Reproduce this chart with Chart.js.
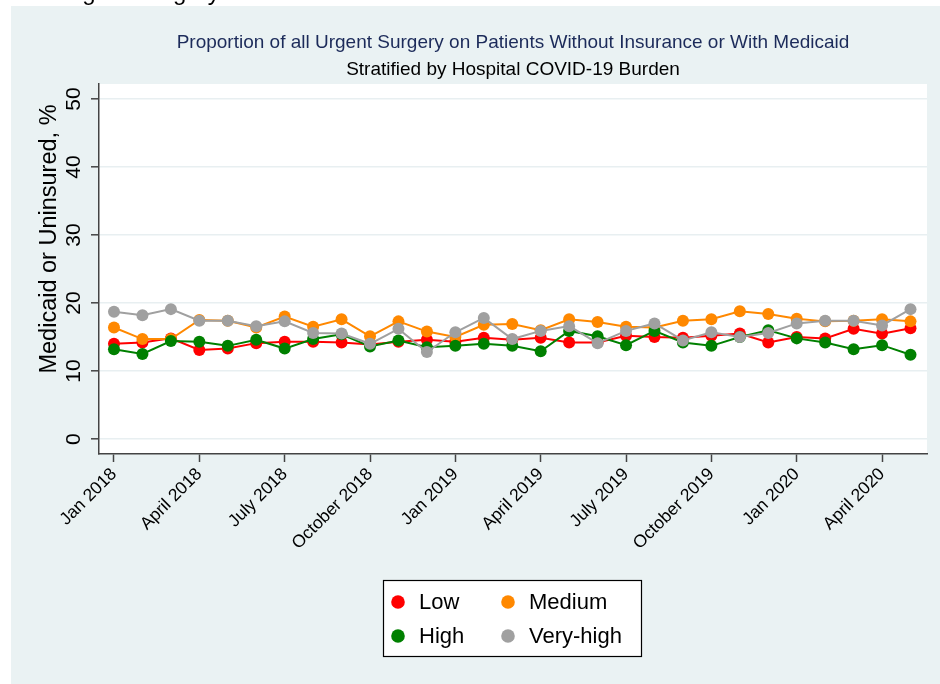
<!DOCTYPE html>
<html><head><meta charset="utf-8">
<script src="https://cdn.jsdelivr.net/npm/chart.js@4.4.1/dist/chart.umd.min.js"></script>
<style>html,body{margin:0;padding:0;background:#fff;}#wrap{width:940px;height:684px;position:relative;}</style>
</head><body><div id="wrap"><canvas id="c" width="940" height="684"></canvas></div>
<script>
// ---- data ----
const monthIndex = [0,1,2,3,4,5,6,7,8,9,10,11,12,13,14,15,16,17,18,19,20,21,22,23,24,25,26,27,28]; // Jan 2018 .. May 2020
const tickIndex = [0,3,6,9,12,15,18,21,24,27];
const tickLabels = ['Jan 2018','April 2018','July 2018','October 2018','Jan 2019','April 2019','July 2019','October 2019','Jan 2020','April 2020'];
const yTicks = [0,10,20,30,40,50];
const seriesNames = ['Low','Medium','High','Very-high'];
const low      = [14.0,14.2,14.8,13.1,13.3,14.1,14.3,14.3,14.2,13.9,14.3,14.6,14.3,14.9,14.6,14.9,14.2,14.2,15.2,15.0,14.9,15.2,15.5,14.2,15.0,14.8,16.2,15.5,16.3];
const medium   = [16.4,14.7,14.7,17.5,17.4,16.4,18.0,16.5,17.6,15.1,17.3,15.8,15.0,16.8,16.9,16.0,17.6,17.2,16.5,16.4,17.4,17.6,18.8,18.4,17.7,17.3,17.4,17.6,17.3];
const high     = [13.2,12.5,14.4,14.3,13.7,14.6,13.3,14.7,15.4,13.6,14.5,13.5,13.7,14.0,13.7,12.9,15.9,15.1,13.8,15.9,14.2,13.7,15.0,16.0,14.8,14.2,13.2,13.8,12.4];
const veryHigh = [18.7,18.2,19.1,17.4,17.4,16.6,17.3,15.6,15.5,14.0,16.2,12.8,15.7,17.8,14.7,15.9,16.6,14.1,15.9,17.0,14.5,15.7,15.0,15.6,17.0,17.4,17.4,16.7,19.1];
const titleText = 'Proportion of all Urgent Surgery on Patients Without Insurance or With Medicaid';
const subtitleText = 'Stratified by Hospital COVID-19 Burden';
const yTitleText = 'Medicaid or Uninsured, %';
const topClipText = 'Urgent Surgery';

// ---- styles ----
const colors = ['#ff0000','#ff8800','#008000','#a0a0a0'];
const FONT = '"Liberation Sans", Arial, Helvetica, sans-serif';
const AXIS = '#444444';

function pts(arr){ return arr.map((v,i)=>({x:monthIndex[i], y:v})); }
const seriesData = [low, medium, high, veryHigh];

const datasets = seriesData.map((arr,k)=>({
  label: seriesNames[k],
  data: pts(arr),
  borderColor: colors[k],
  backgroundColor: colors[k],
  pointBackgroundColor: colors[k],
  pointBorderColor: colors[k],
  pointBorderWidth: 0,
  pointRadius: 6,
  borderWidth: 2,
  tension: 0,
  order: 3-k
}));

const deco = {
  id: 'deco',
  beforeDraw(chart){
    const {ctx, chartArea:a} = chart;
    ctx.save();
    ctx.fillStyle = '#ffffff'; ctx.fillRect(0,0,940,684);
    ctx.fillStyle = '#000'; ctx.font = '24px ' + FONT; ctx.textAlign='left'; ctx.textBaseline='alphabetic';
    ctx.fillText(topClipText, 57, 0);
    ctx.fillStyle = '#eaf2f3'; ctx.fillRect(11,6,929,678);
    ctx.fillStyle = '#ffffff'; ctx.fillRect(a.left, a.top, a.right-a.left, a.bottom-a.top);
    ctx.restore();
  },
  afterDraw(chart){
    const {ctx, chartArea:a, scales} = chart;
    const cx = (a.left + a.right)/2;
    ctx.save();
    // titles
    ctx.textAlign = 'center'; ctx.textBaseline = 'middle';
    ctx.fillStyle = '#1c2b5a'; ctx.font = '19px ' + FONT;
    ctx.fillText(titleText, cx, 43);
    ctx.fillStyle = '#000'; ctx.font = '19px ' + FONT;
    ctx.fillText(subtitleText, cx, 70);
    // y tick labels (rotated)
    ctx.font = '21px ' + FONT; ctx.fillStyle = '#000';
    scales.y.ticks.forEach(t=>{
      const py = scales.y.getPixelForValue(t.value);
      ctx.save(); ctx.translate(80, py); ctx.rotate(-Math.PI/2);
      ctx.textAlign='center'; ctx.textBaseline='alphabetic';
      ctx.fillText(String(t.value), 0, 0); ctx.restore();
    });
    // y title
    ctx.save(); ctx.translate(56, 239); ctx.rotate(-Math.PI/2);
    ctx.font = '23.5px ' + FONT; ctx.textAlign='center'; ctx.textBaseline='alphabetic'; ctx.fillStyle='#000';
    ctx.fillText(yTitleText, 0, 0); ctx.restore();
    // legend
    const bx=383, by=580, bw=258, bh=76;
    ctx.fillStyle='#fff'; ctx.fillRect(bx,by,bw,bh);
    ctx.strokeStyle='#000'; ctx.lineWidth=1.2; ctx.strokeRect(bx+0.5,by+0.5,bw,bh);
    const pos = [[398,602],[508,602],[398,636],[508,636]];
    ctx.font = '22px ' + FONT; ctx.textAlign='left'; ctx.textBaseline='middle';
    chart.data.datasets.forEach((ds,k)=>{
      const [x,y] = pos[k];
      ctx.fillStyle = ds.borderColor; ctx.beginPath(); ctx.arc(x,y,6.8,0,Math.PI*2); ctx.fill();
      ctx.fillStyle = '#000'; ctx.fillText(ds.label, x+21, y+1);
    });
    ctx.restore();
  }
};

new Chart(document.getElementById('c'), {
  type: 'line',
  data: { datasets },
  options: {
    responsive: false,
    animation: false,
    events: [],
    layout: { padding: { left: 0, top: 84, right: 13, bottom: 0 } },
    plugins: { legend: { display: false }, tooltip: { enabled: false }, title: { display: false } },
    scales: {
      x: {
        type: 'linear', min: -0.527, max: 28.58,
        afterBuildTicks: s => { s.ticks = tickIndex.map(v=>({value:v})); },
        afterFit: s => { s.height = 230; },
        ticks: {
          autoSkip: false, minRotation: 45, maxRotation: 45, padding: 2,
          color: '#000', font: { family: FONT, size: 17.5 },
          callback: v => { const i = tickIndex.indexOf(v); return i >= 0 ? tickLabels[i] : ''; }
        },
        grid: { drawOnChartArea: false, drawTicks: true, tickLength: 8, tickColor: AXIS, tickWidth: 1.5 },
        border: { display: true, color: AXIS, width: 1.5 }
      },
      y: {
        type: 'linear', min: -2.2, max: 52.2,
        afterBuildTicks: s => { s.ticks = yTicks.map(v=>({value:v})); },
        afterFit: s => { s.width = 99; },
        ticks: { color: 'rgba(0,0,0,0)', font: { family: FONT, size: 14 } },
        grid: { drawOnChartArea: true, color: '#e8eff1', lineWidth: 1.6, drawTicks: true, tickLength: 8, tickColor: AXIS, tickWidth: 1.5 },
        border: { display: true, color: AXIS, width: 1.5 }
      }
    }
  },
  plugins: [deco]
});
</script>
</body></html>
